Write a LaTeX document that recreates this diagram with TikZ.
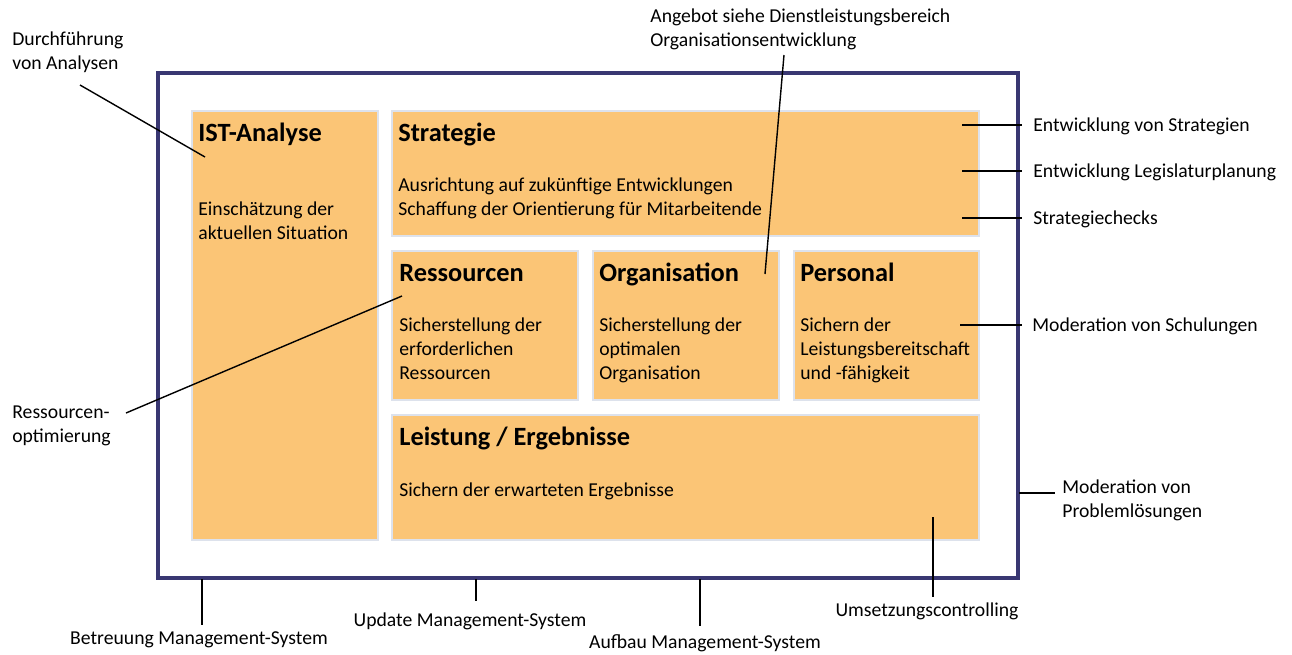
\documentclass[tikz,border=0pt]{standalone}
\usepackage{fontspec}
\setmainfont{Carlito}
\usetikzlibrary{fit}
\definecolor{boxfill}{RGB}{251,197,118}
\definecolor{boxline}{RGB}{221,226,236}
\definecolor{framecol}{RGB}{57,55,114}

\begin{document}
\begin{tikzpicture}[x=0.02cm,y=-0.02cm,
  area/.style={fill=boxfill, draw=boxline, line width=0.6pt, inner sep=0pt},
  title/.style={anchor=base west, inner sep=0pt, font=\fontsize{15}{18}\selectfont\bfseries},
  body/.style={anchor=base west, inner sep=0pt, align=left, font=\fontsize{11.2}{13.6}\selectfont},
  note/.style={inner sep=0pt, align=left, font=\fontsize{11.2}{13.6}\selectfont},
  callout/.style={line width=0.8pt, black}]
  \useasboundingbox (0,0) rectangle (1292,654);

  % outer frame
  \node[draw=framecol, line width=2.3pt, inner sep=0pt, fit={(158,73) (1018,578)}] (frame) {};

  % areas
  \node[area, fit={(192,111) (378,540)}] (ist) {};
  \node[area, fit={(392,111) (979,236)}] (strat) {};
  \node[area, fit={(392,251) (578,400)}] (ress) {};
  \node[area, fit={(593,251) (779,400)}] (orga) {};
  \node[area, fit={(794,251) (979,400)}] (pers) {};
  \node[area, fit={(392,415) (979,540)}] (leist) {};

  % titles and texts (multi-line nodes sit on their last line)
  \node[title] (istT) at (198,141) {IST-Analyse};
  \node[body] (istB) at (198,239) {Einschätzung der\\aktuellen Situation};
  \node[title] (stratT) at (398,141) {Strategie};
  \node[body] (stratB) at (398,215) {Ausrichtung auf zukünftige Entwicklungen\\Schaffung der Orientierung für Mitarbeitende};
  \node[title] (ressT) at (399,281) {Ressourcen};
  \node[body] (ressB) at (399,379) {Sicherstellung der\\erforderlichen\\Ressourcen};
  \node[title] (orgaT) at (599,281) {Organisation};
  \node[body] (orgaB) at (599,379) {Sicherstellung der\\optimalen\\Organisation};
  \node[title] (persT) at (800,281) {Personal};
  \node[body] (persB) at (800,379) {Sichern der\\Leistungsbereitschaft\\und -fähigkeit};
  \node[title] (leistT) at (399,445) {Leistung / Ergebnisse};
  \node[body] (leistB) at (399,496) {Sichern der erwarteten Ergebnisse};

  % notes
  \node[note, anchor=base west] (durch) at (12,69) {Durchführung\\von Analysen};
  \node[note, anchor=base west] (angebot) at (650,46) {Angebot siehe Dienstleistungsbereich\\Organisationsentwicklung};
  \node[note, anchor=base west] (entwS) at (1033,131) {Entwicklung von Strategien};
  \node[note, anchor=base west] (entwL) at (1033,177) {Entwicklung Legislaturplanung};
  \node[note, anchor=base west] (checks) at (1033,224) {Strategiechecks};
  \node[note, anchor=base west] (schul) at (1032,331) {Moderation von Schulungen};
  \node[note, anchor=base west] (probl) at (1062,517) {Moderation von\\Problemlösungen};
  \node[note, anchor=base] (umsetz) at (927,616) {Umsetzungscontrolling};
  \node[note, anchor=base] (aufbau) at (705,648) {Aufbau Management-System};
  \node[note, anchor=base] (update) at (470,626) {Update Management-System};
  \node[note, anchor=base] (betreu) at (199,644) {Betreuung Management-System};
  \node[note, anchor=base west] (ropt) at (12,442) {Ressourcen-\\optimierung};

  % connector ends
  \coordinate (durchA) at (80,85);
  \coordinate (durchB) at (205,157);
  \coordinate (angA) at (784,55);
  \coordinate (angB) at (765,274);
  \coordinate (entwSA) at (962,125);
  \coordinate (entwSB) at (1022,125);
  \coordinate (entwLA) at (962,171);
  \coordinate (entwLB) at (1022,171);
  \coordinate (checksA) at (962,218);
  \coordinate (checksB) at (1022,218);
  \coordinate (schulA) at (960,325);
  \coordinate (schulB) at (1022,325);
  \coordinate (problA) at (1019,493);
  \coordinate (problB) at (1055,493);
  \coordinate (umsA) at (933,517);
  \coordinate (umsB) at (933,597);
  \coordinate (aufA) at (700,579);
  \coordinate (aufB) at (700,626);
  \coordinate (updA) at (476,579);
  \coordinate (updB) at (476,601);
  \coordinate (betA) at (202,579);
  \coordinate (betB) at (202,625);
  \coordinate (roptA) at (126,413);
  \coordinate (roptB) at (402,296);

  \draw[callout] (durchA) -- (durchB);
  \draw[callout] (angA) -- (angB);
  \draw[callout] (entwSA) -- (entwSB);
  \draw[callout] (entwLA) -- (entwLB);
  \draw[callout] (checksA) -- (checksB);
  \draw[callout] (schulA) -- (schulB);
  \draw[callout] (problA) -- (problB);
  \draw[callout] (umsA) -- (umsB);
  \draw[callout] (aufA) -- (aufB);
  \draw[callout] (updA) -- (updB);
  \draw[callout] (betA) -- (betB);
  \draw[callout] (roptA) -- (roptB);
\end{tikzpicture}
\end{document}
